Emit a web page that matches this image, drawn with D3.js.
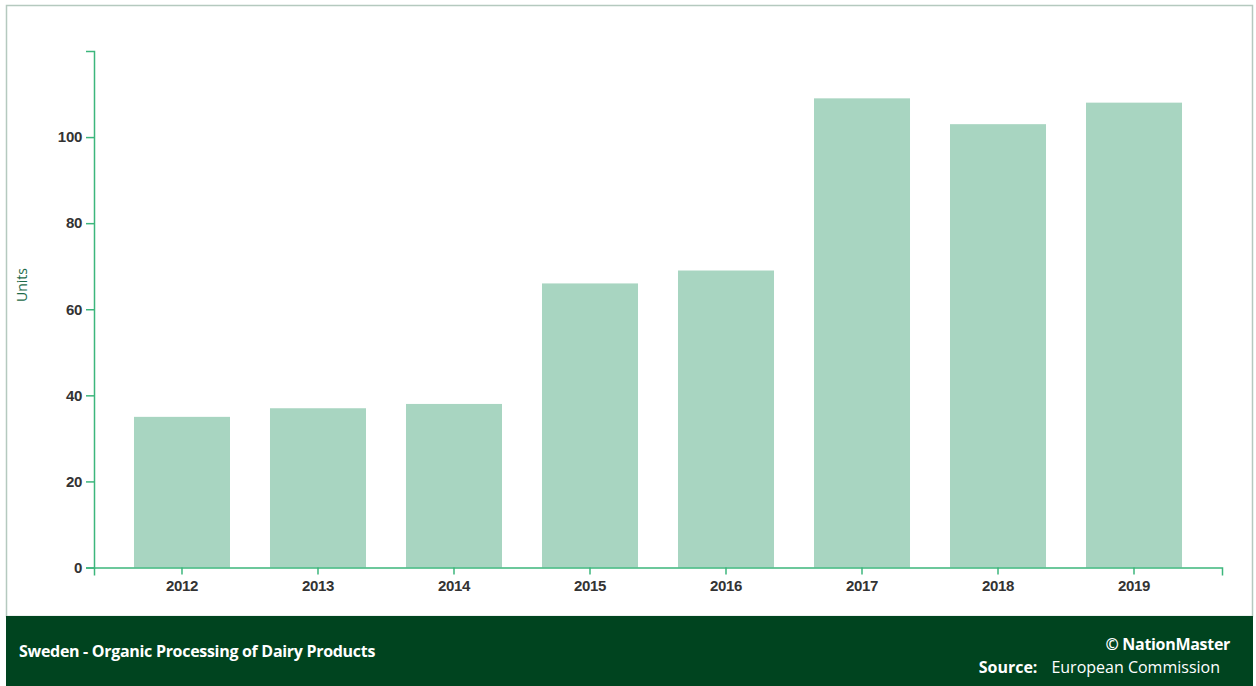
<!DOCTYPE html>
<html>
<head>
<meta charset="utf-8">
<script src="https://cdn.jsdelivr.net/npm/d3@7"></script>
<style>
  body { margin: 0; background: #fff; }
  svg { display: block; font-family: "Open Sans", "Noto Sans", sans-serif; }
</style>
</head>
<body>
<div id="chart"></div>
<script>
const years = ['2012', '2013', '2014', '2015', '2016', '2017', '2018', '2019'];
const units = [35, 37, 38, 66, 69, 109, 103, 108];
const yTicks = [0, 20, 40, 60, 80, 100];
const title = 'Sweden - Organic Processing of Dairy Products';
const source = 'European Commission';

const width = 1256;
const height = 686;

const svg = d3.select('#chart').append('svg')
  .attr('width', width)
  .attr('height', height);

// frame
svg.append('rect')
  .attr('x', 6.5).attr('y', 5.5)
  .attr('width', 1246).attr('height', 611)
  .attr('fill', '#fff')
  .attr('stroke', '#b5c9bf')
  .attr('stroke-width', 1.5);

const x = d3.scaleBand()
  .domain(years)
  .range([94, 1222])
  .padding(0.294);

const y = d3.scaleLinear()
  .domain([0, 120])
  .range([567.5, 51]);

svg.append('g')
  .selectAll('rect')
  .data(units)
  .join('rect')
  .attr('x', (d, i) => x(years[i]))
  .attr('y', d => y(d))
  .attr('width', x.bandwidth())
  .attr('height', d => y(0) - y(d))
  .attr('fill', '#a8d5c1');

const axisColor = '#3cb67c';

const yAxis = svg.append('g')
  .attr('transform', 'translate(94,0)')
  .call(d3.axisLeft(y).tickValues(yTicks).tickSizeOuter(-7).tickSize(8).tickPadding(4));

const xAxis = svg.append('g')
  .attr('transform', 'translate(0,567.5)')
  .call(d3.axisBottom(x).tickSize(7).tickSizeOuter(8).tickPadding(5));

[yAxis, xAxis].forEach(g => {
  g.selectAll('path, line').attr('stroke', axisColor).attr('stroke-width', 1.5);
  g.selectAll('text')
    .attr('fill', '#333')
    .style('font-size', '15px')
    .style('font-weight', 'bold')
    .style('letter-spacing', '-0.3px');
});
xAxis.selectAll('text').attr('dy', '0.75em');

svg.append('text')
  .attr('transform', 'translate(27,285) rotate(-90)')
  .attr('text-anchor', 'middle')
  .attr('fill', '#1e6b4a')
  .style('font-size', '14px')
  .text('Units');

// footer band
svg.append('rect')
  .attr('x', 6).attr('y', 616)
  .attr('width', 1247).attr('height', 70)
  .attr('fill', '#00441f');

svg.append('text')
  .attr('x', 19).attr('y', 657)
  .attr('fill', '#fff')
  .style('font-size', '16px')
  .style('font-weight', 'bold')
  .style('letter-spacing', '-0.3px')
  .text(title);

svg.append('text')
  .attr('x', 1230).attr('y', 650)
  .attr('text-anchor', 'end')
  .attr('fill', '#fff')
  .style('font-size', '16px')
  .style('font-weight', 'bold')
  .style('letter-spacing', '-0.3px')
  .text('© NationMaster');

const src = svg.append('text')
  .attr('x', 1220).attr('y', 673)
  .attr('text-anchor', 'end')
  .attr('fill', '#fff')
  .style('font-size', '16px');
src.append('tspan')
  .style('font-weight', 'bold')
  .text('Source:');
src.append('tspan')
  .attr('dx', 14)
  .text(source);
</script>
</body>
</html>
